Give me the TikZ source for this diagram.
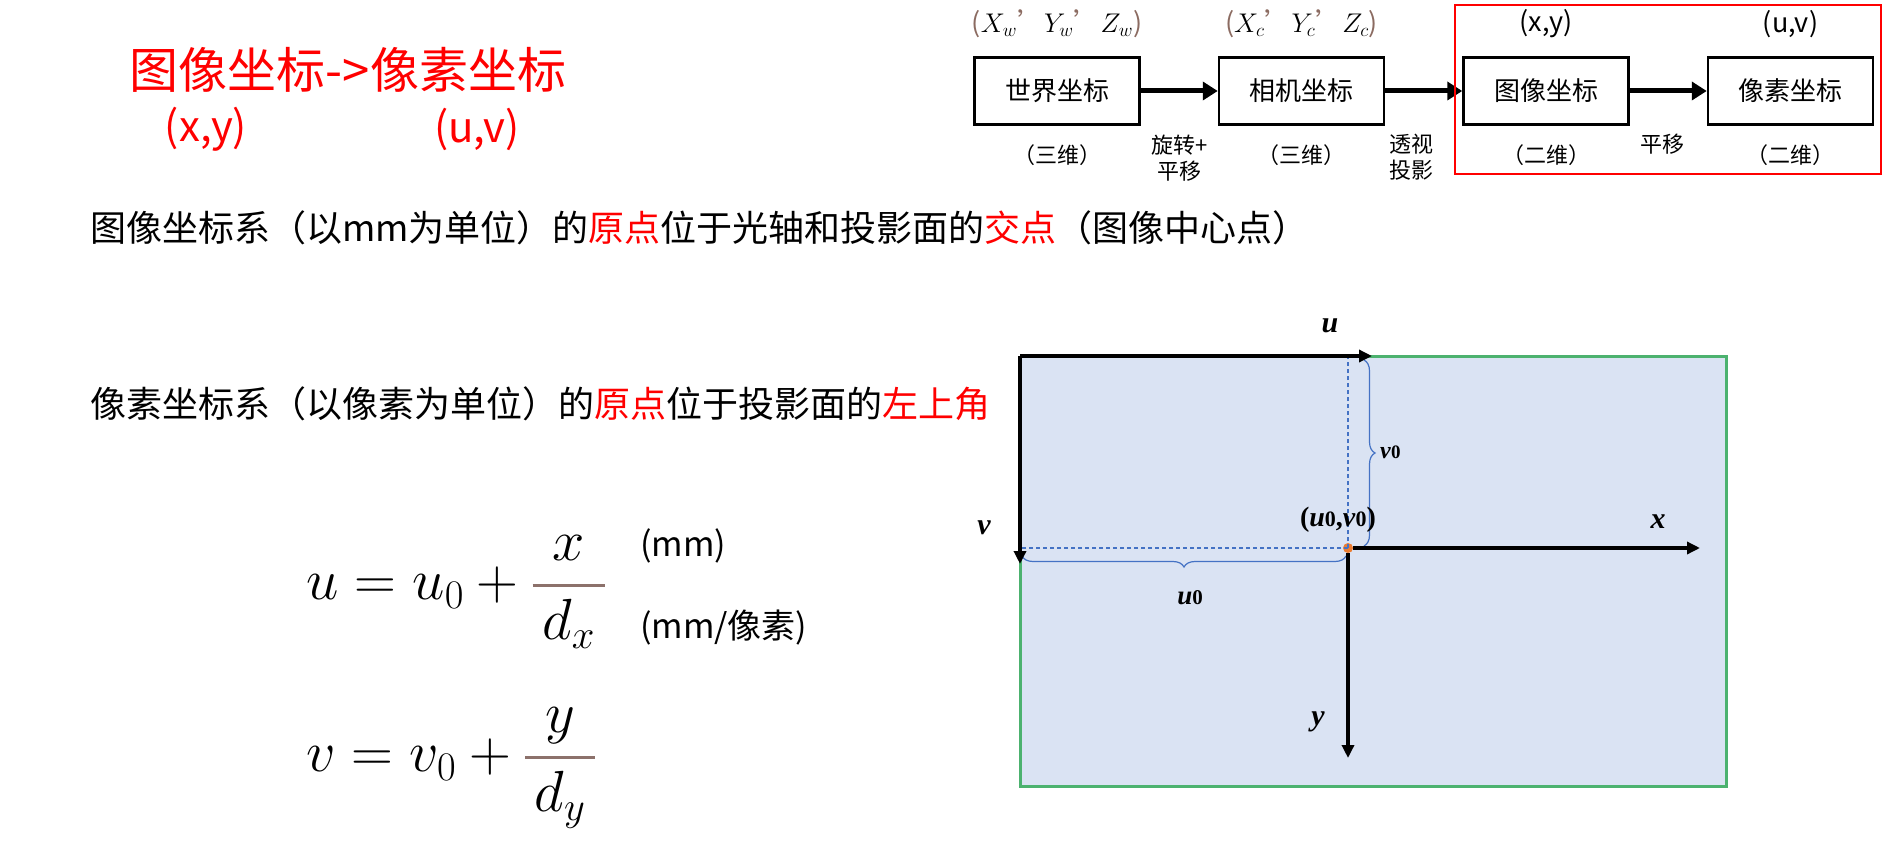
\RequirePackage{fix-cm}
\documentclass[tikz,border=0pt]{standalone}
\usepackage{amsmath}
\usepackage{fontspec}
\setmainfont{Noto Sans CJK SC}
\newfontfamily\timesfont{Liberation Serif}
\usetikzlibrary{arrows.meta,positioning,fit,decorations.pathreplacing}
\definecolor{Alert}{HTML}{FF0000}
\definecolor{Panel}{HTML}{DAE3F3}
\definecolor{Frame}{HTML}{4CB26F}
\definecolor{Guide}{HTML}{4472C4}
\definecolor{Origin}{HTML}{ED7D31}
\definecolor{Bar}{HTML}{8C716B}
\definecolor{Paren}{HTML}{8B6B61}
\newcommand{\fs}[1]{\fontsize{#1}{#1}\selectfont}
\newcommand{\coordtriple}[1]{{\color{Paren}(}$X_{#1}${\color{Paren}’}$Y_{#1}${\color{Paren}’}$Z_{#1}${\color{Paren})}}
\newcommand{\unitfrac}[2]{{\color{Bar}\genfrac{}{}{3pt}{0}{\,\color{black}#1\,}{\,\color{black}#2\,}}}
\tikzset{
  flowbox/.style={draw=black,line width=2.5pt,minimum width=165pt,minimum height=67pt,font=\fs{26}},
  flowarr/.style={-{Triangle[length=15pt,width=18pt]},line width=5pt},
  axisarr/.style={-{Triangle[length=13pt,width=12pt]},line width=4pt},
  guide/.style={draw=Guide,line width=1.5pt,dash pattern=on 4pt off 3pt},
  bracestyle/.style={draw=Guide,line width=1.2pt,decorate,decoration={brace,amplitude=11pt}},
  toplabel/.style={inner sep=0pt,font=\fs{27}},
  dimlabel/.style={inner sep=0pt,font=\fs{22}},
  steplabel/.style={inner sep=0pt,font=\fontsize{22}{26}\selectfont,align=center,anchor=north},
  axlabel/.style={inner sep=0pt,font=\timesfont\fs{30}\bfseries\itshape},
  alerttxt/.style={text=Alert,inner sep=0pt}
}
\begin{document}
\begin{tikzpicture}[x=1pt,y=-1pt]
  \useasboundingbox (0,0) rectangle (1882,842);
  \node[alerttxt,font=\fs{49}] (conv) at (348,70) {图像坐标->像素坐标};
  \node[alerttxt,font=\fs{42}] (convxy) at (206,129) {(x,y)};
  \node[alerttxt,font=\fs{42}] (convuv) at (477,129) {(u,v)};
  \node[anchor=west,inner sep=0pt,font=\fs{36}] (imgdef) at (90,228) {图像坐标系（以mm为单位）的{\color{Alert}原点}位于光轴和投影面的{\color{Alert}交点}（图像中心点）};
  \node[anchor=west,inner sep=0pt,font=\fs{36}] (pixdef) at (90,404) {像素坐标系（以像素为单位）的{\color{Alert}原点}位于投影面的{\color{Alert}左上角}};
  \node[anchor=west,inner sep=0pt,font=\fs{58}] (ueq) at (306,592) {$u = u_0 + \unitfrac{x}{d_x}$};
  \node[anchor=west,inner sep=0pt,font=\fs{58}] (veq) at (306,768) {$v = v_0 + \unitfrac{y}{d_y}$};
  \node[anchor=west,inner sep=0pt,font=\fs{34}] (mmunit) at (640,546) {(mm)};
  \node[anchor=west,inner sep=0pt,font=\fs{34}] (pixunit) at (640,628) {(mm/像素)};

  \node[flowbox] (world) at (1057,91) {世界坐标};
  \node[flowbox,right=77pt of world] (camera) {相机坐标};
  \node[flowbox,right=77pt of camera] (image) {图像坐标};
  \node[flowbox,right=77pt of image] (pixel) {像素坐标};
  \node[toplabel,above=18pt of world] (worldxyz) {\coordtriple{w}};
  \node[toplabel,above=18pt of camera] (cameraxyz) {\coordtriple{c}};
  \node[toplabel,above=18pt of image] (imagexy) {(x,y)};
  \node[toplabel,above=18pt of pixel] (pixeluv) {(u,v)};
  \node[dimlabel,below=19pt of world] (worlddim) {（三维）};
  \node[dimlabel,below=19pt of camera] (cameradim) {（三维）};
  \node[dimlabel,below=19pt of image] (imagedim) {（二维）};
  \node[dimlabel,below=19pt of pixel] (pixeldim) {（二维）};
  \draw[flowarr] (world) -- (camera) node[steplabel,midway,below=41pt] (rigid) {旋转+\\平移};
  \draw[flowarr] (camera) -- (image) node[steplabel,midway,below=41pt,xshift=-12pt] (persp) {透视\\投影};
  \draw[flowarr] (image) -- (pixel) node[steplabel,midway,below=41pt,xshift=-6pt] (shift) {平移};
  \node[draw=Alert,line width=2pt,inner xsep=7pt,inner ysep=50pt,yshift=1.5pt,fit=(image)(pixel)] (focus) {};

  \fill[Panel] (1020,356) rectangle (1726,786);
  \draw[Frame,line width=3pt] (1368,356) -- (1726,356) -- (1726,786) -- (1020,786) -- (1020,560);
  \coordinate (pixorg) at (1020,356);
  \coordinate (uend) at (1372,356);
  \coordinate (vend) at (1020,564);
  \node[circle,fill=Origin,inner sep=0pt,minimum size=10pt] (imgorg) at (1348,548) {};
  \coordinate (xend) at (1700,548);
  \coordinate (yend) at (1348,758);
  \draw[guide] (imgorg.center) -- (imgorg.center |- pixorg);
  \draw[guide] (imgorg.center) -- (imgorg.center -| pixorg);
  \draw[bracestyle] (1364,360) -- (1364,546);
  \draw[bracestyle] (1346,556) -- (1022,556);
  \draw[axisarr] (pixorg) -- (uend);
  \draw[axisarr] (pixorg) -- (vend);
  \draw[axisarr] (imgorg) -- (xend);
  \draw[axisarr] (imgorg) -- (yend);
  \node[axlabel] (ulab) at (1330,326) {u};
  \node[axlabel] (vlab) at (984,528) {v};
  \node[axlabel] (xlab) at (1658,522) {x};
  \node[axlabel] (ylab) at (1318,722) {y};
  \node[axlabel,font=\timesfont\fs{28}\bfseries] (orglab) at (1338,520) {(\textit{u}{\fs{22}0},\textit{v}{\fs{22}0})};
  \node[axlabel,anchor=west,font=\timesfont\fs{24}\bfseries] (v0lab) at (1380,452) {\textit{v}{\fs{19}0}};
  \node[axlabel,font=\timesfont\fs{27}\bfseries] (u0lab) at (1190,598) {\textit{u}{\fs{21}0}};
\end{tikzpicture}
\end{document}
